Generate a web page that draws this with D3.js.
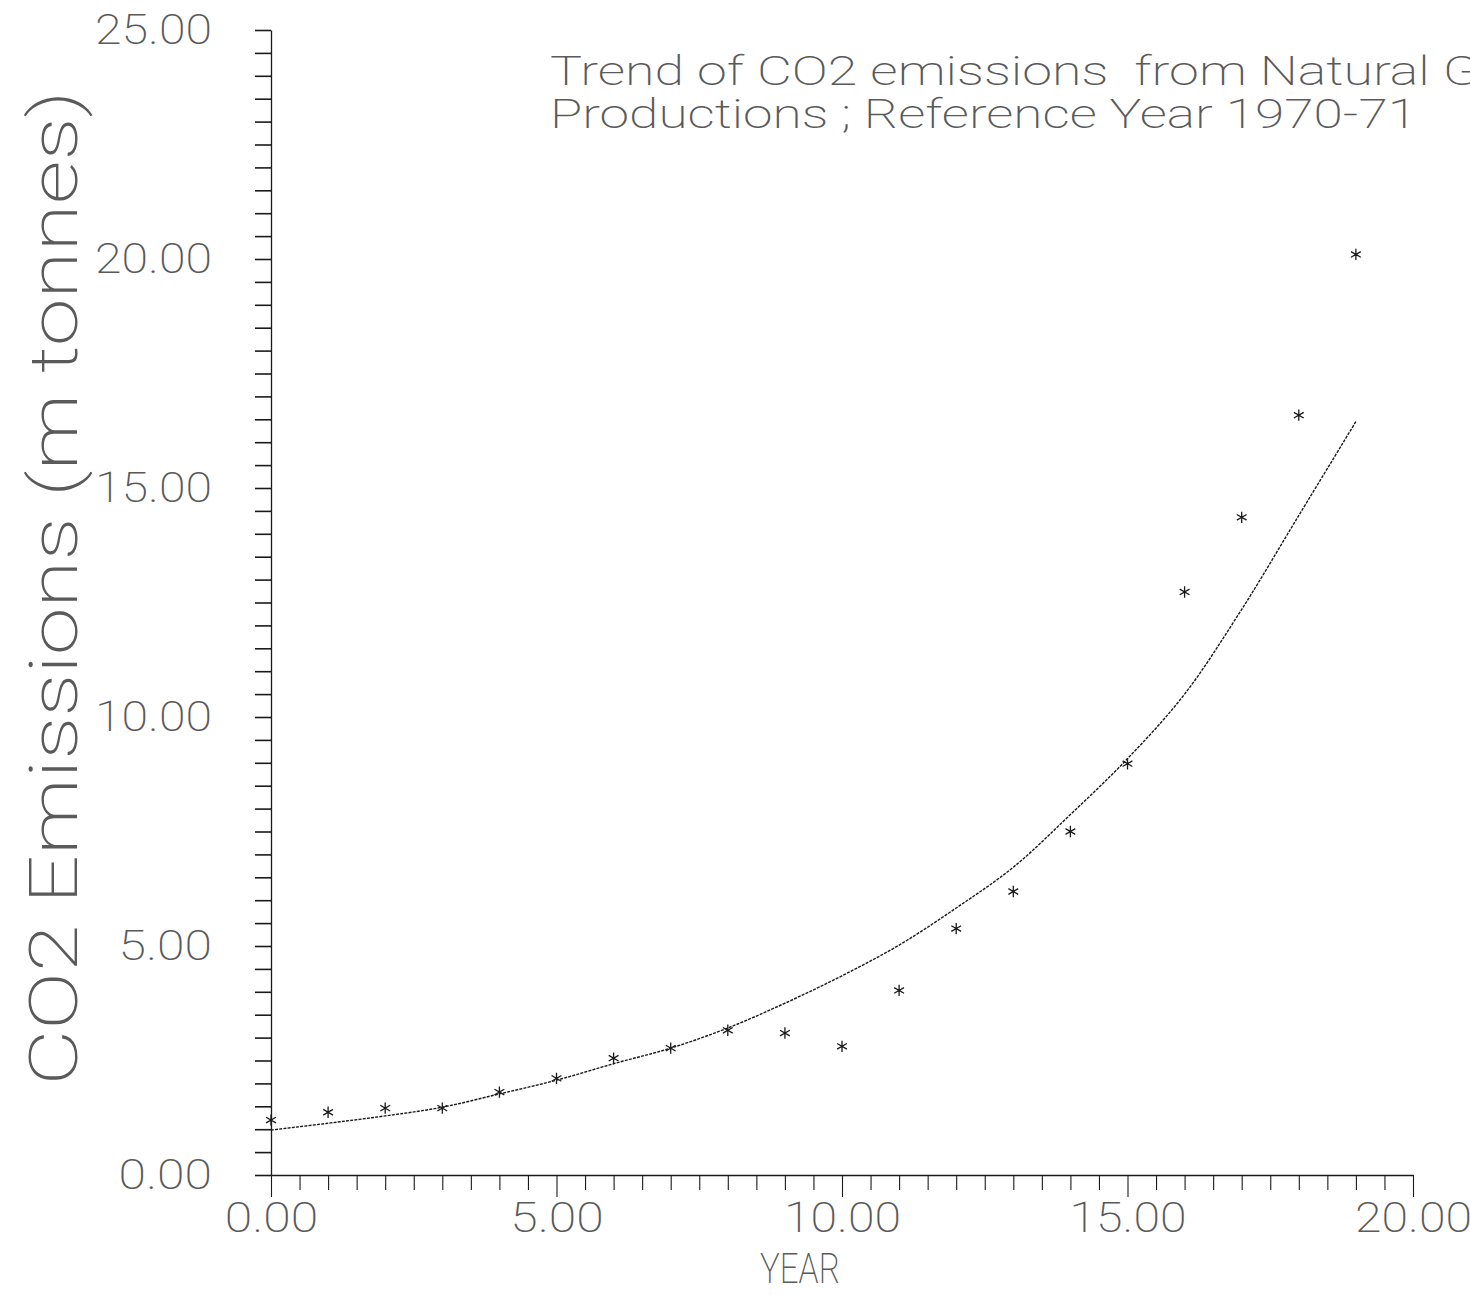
<!DOCTYPE html>
<html>
<head>
<meta charset="utf-8">
<script src="https://cdn.jsdelivr.net/npm/d3@7"></script>
<style>
  html, body { margin: 0; padding: 0; background: #fff; }
  svg { display: block; }
</style>
</head>
<body>
<svg id="chart" width="1470" height="1295"></svg>
<script>
// ---- data ----
const years = [0,1,2,3,4,5,6,7,8,9,10,11,12,13,14,15,16,17,18,19];
const emissions = [1.20,1.37,1.46,1.46,1.81,2.11,2.55,2.77,3.16,3.10,2.81,4.03,5.38,6.19,7.50,8.98,12.73,14.36,16.59,20.10];
const trendYears = [0,1,2,3,4,5,6,7,8,9,10,11,12,13,14,15,16,17,18,19];
const trendValues = [0.98,1.13,1.29,1.48,1.77,2.07,2.43,2.77,3.21,3.75,4.35,5.02,5.83,6.72,7.87,9.09,10.5,12.35,14.4,16.45];
const xTickLabels = ["0.00","5.00","10.00","15.00","20.00"];
const yTickLabels = ["0.00","5.00","10.00","15.00","20.00","25.00"];
const titleLines = ["Trend of CO2 emissions  from Natural Gas", "Productions ; Reference Year 1970-71"];
const xTitle = "YEAR";
const yTitle = "CO2 Emissions (m tonnes)";

const svg = d3.select("#chart");
const FONT = "Roboto, 'DejaVu Sans', sans-serif";
const TXT = "#5a5a5a";
const INK = "#1a1a1a";
const W = 200;

const x = d3.scaleLinear().domain([0, 20]).range([271, 1413]);
const y = d3.scaleLinear().domain([0, 25]).range([1175, 30]);

// ---- y axis ----
const yAxis = d3.axisLeft(y)
  .tickValues(d3.range(0, 25.001, 0.5))
  .tickSize(16)
  .tickSizeOuter(0)
  .tickPadding(43)
  .tickFormat(d => (Math.abs(d % 5) < 1e-9) ? yTickLabels[Math.round(d / 5)] : "");
const gy = svg.append("g").attr("transform", `translate(${x(0)},0)`).call(yAxis);
gy.select(".domain").attr("stroke", INK).attr("stroke-width", 1.3);
gy.selectAll(".tick line").attr("stroke", INK).attr("stroke-width", 1.6);
gy.selectAll(".tick text")
  .attr("font-family", FONT).attr("font-weight", W).attr("font-size", 42)
  .attr("fill", TXT)
  .each(function() { const t = d3.select(this); if (t.text()) t.attr("textLength", t.text().length * 23.4).attr("lengthAdjust", "spacingAndGlyphs"); });

// ---- x axis ----
const xAxis = d3.axisBottom(x)
  .tickValues(d3.range(0, 20.001, 0.5))
  .tickSize(15)
  .tickSizeOuter(0)
  .tickPadding(12)
  .tickFormat(d => (Math.abs(d % 5) < 1e-9) ? xTickLabels[Math.round(d / 5)] : "");
const gx = svg.append("g").attr("transform", `translate(0,${y(0)})`).call(xAxis);
gx.select(".domain").attr("stroke", INK).attr("stroke-width", 1.6);
gx.selectAll(".tick line").attr("stroke", INK).attr("stroke-width", 1.1)
  .attr("y2", d => (Math.abs(d % 5) < 1e-9) ? 22 : 15);
gx.selectAll(".tick text")
  .attr("font-family", FONT).attr("font-weight", W).attr("font-size", 42)
  .attr("fill", TXT)
  .each(function() { const t = d3.select(this); if (t.text()) t.attr("textLength", t.text().length * 23.4).attr("lengthAdjust", "spacingAndGlyphs"); });

// ---- trend curve ----
const line = d3.line()
  .x((d, i) => x(trendYears[i]))
  .y(d => y(d))
  .curve(d3.curveCatmullRom.alpha(0.5));
svg.append("path")
  .datum(trendValues)
  .attr("d", line)
  .attr("fill", "none")
  .attr("stroke", INK)
  .attr("stroke-width", 1.4)
  .attr("stroke-dasharray", "3,1.2");

// ---- data points (asterisks) ----
const star = d3.symbol().type(d3.symbolAsterisk).size(90);
svg.append("g").selectAll("path")
  .data(emissions)
  .join("path")
  .attr("d", star)
  .attr("transform", (d, i) => `translate(${x(years[i])},${y(d)})`)
  .attr("fill", "none")
  .attr("stroke", INK)
  .attr("stroke-width", 1.3);

// ---- titles ----
svg.append("text")
  .attr("x", 550).attr("y", 85)
  .attr("font-family", FONT).attr("font-weight", W).attr("font-size", 40)
  .attr("fill", TXT)
  .attr("textLength", 985).attr("lengthAdjust", "spacingAndGlyphs")
  .style("white-space", "pre")
  .text(titleLines[0]);
svg.append("text")
  .attr("x", 550).attr("y", 128)
  .attr("font-family", FONT).attr("font-weight", W).attr("font-size", 40)
  .attr("fill", TXT)
  .attr("textLength", 867).attr("lengthAdjust", "spacingAndGlyphs")
  .text(titleLines[1]);

// ---- axis titles ----
svg.append("text")
  .attr("x", 800).attr("y", 1283)
  .attr("text-anchor", "middle")
  .attr("font-family", FONT).attr("font-weight", W).attr("font-size", 42)
  .attr("fill", TXT)
  .attr("textLength", 80).attr("lengthAdjust", "spacingAndGlyphs")
  .text(xTitle);

svg.append("text")
  .attr("transform", "translate(77,588) rotate(-90)")
  .attr("text-anchor", "middle")
  .attr("font-family", FONT).attr("font-weight", W).attr("font-size", 66)
  .attr("fill", TXT)
  .attr("textLength", 995).attr("lengthAdjust", "spacingAndGlyphs")
  .text(yTitle);
</script>
</body>
</html>
